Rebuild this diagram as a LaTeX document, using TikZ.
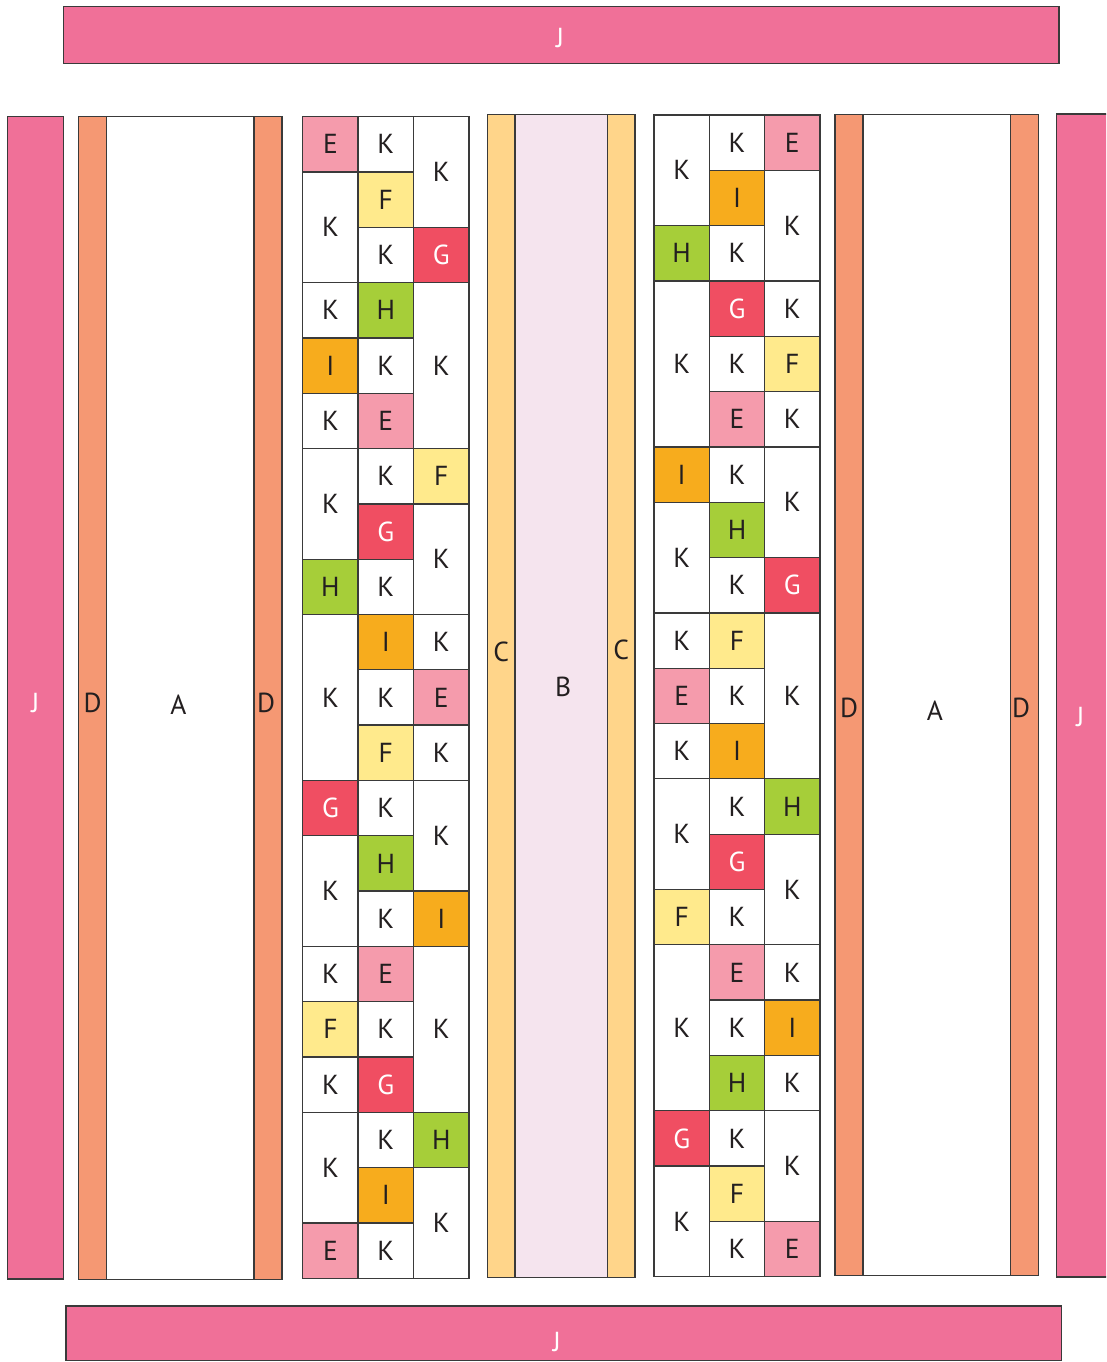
\documentclass[tikz,border=0pt]{standalone}
\usepackage{fontspec}
\setmainfont{PT Sans}
\definecolor{jpink}{HTML}{F07098}
\definecolor{dsalmon}{HTML}{F59873}
\definecolor{cyel}{HTML}{FFD58A}
\definecolor{bpink}{HTML}{F5E4EE}
\definecolor{epink}{HTML}{F59BAC}
\definecolor{fyel}{HTML}{FFEA8C}
\definecolor{gred}{HTML}{F04E62}
\definecolor{hgreen}{HTML}{A6CE39}
\definecolor{iorange}{HTML}{F7AC1D}
\definecolor{linecol}{HTML}{3A3A3A}
\definecolor{txt}{HTML}{231F20}
\newcommand\gcell[6]{%
  \pgfmathsetmacro\cx{\gridX+(#2+0.5)*\gridW}%
  \pgfmathsetmacro\cy{\gridY+(#3+0.5*#4)*\gridH}%
  \pgfmathsetmacro\ch{#4*\gridH}%
  \node[cellbox,#5,minimum width=\gridW pt,minimum height=\ch pt] (#1) at (\cx,\cy) {#6};}
\begin{document}
\begin{tikzpicture}[x=1pt,y=-1pt,
  cellbox/.style={draw=linecol,line width=1.3pt,inner sep=0pt,
    font=\fontsize{27.5}{32}\selectfont,text=txt,fill=white},
  cE/.style={fill=epink},
  cF/.style={fill=fyel},
  cG/.style={fill=gred,text=white},
  cH/.style={fill=hgreen},
  cI/.style={fill=iorange},
  cK/.style={fill=white},
  bar/.style={draw=linecol,line width=1.3pt,inner sep=0pt},
  lbl/.style={font=\fontsize{27.5}{32}\selectfont,text=txt,inner sep=0pt},
  wlbl/.style={lbl,text=white}]
\path[use as bounding box,clip] (0,0) rectangle (1106,1362);

% J bars
\node[bar,fill=jpink,minimum width=995.7pt,minimum height=56.6pt,
  label={[wlbl,xshift=-1pt,yshift=-3pt]center:J}] (jtop) at (561.15,35) {};
\node[bar,fill=jpink,minimum width=995.7pt,minimum height=54.7pt,
  label={[wlbl,xshift=-7pt,yshift=-9pt]center:J}] (jbot) at (563.85,1333.35) {};
\node[bar,fill=jpink,minimum width=55.8pt,minimum height=1162.3pt,
  label={[wlbl,yshift=-5pt]center:J}] (jleft) at (35.4,697.9) {};
\node[bar,fill=jpink,minimum width=53.3pt,minimum height=1163pt,
  label={[wlbl,xshift=-3pt,yshift=-22pt]center:J}] (jright) at (1083.35,695.5) {};

% left A group
\node[bar,fill=dsalmon,minimum width=28.2pt,minimum height=1162.8pt,
  label={[lbl,yshift=-5pt]center:D}] (dl1) at (92.6,698.1) {};
\node[bar,fill=white,minimum width=147.3pt,minimum height=1162.8pt,
  label={[lbl,xshift=-2pt,yshift=-7pt]center:A}] (al) at (180.35,698.1) {};
\node[bar,fill=dsalmon,minimum width=28pt,minimum height=1162.8pt,
  label={[lbl,xshift=-2pt,yshift=-5pt]center:D}] (dl2) at (268,698.1) {};

% B group
\node[bar,fill=cyel,minimum width=27.7pt,minimum height=1163.4pt,
  label={[lbl,yshift=44pt]center:C}] (c1) at (501.15,696) {};
\node[bar,fill=bpink,minimum width=92.3pt,minimum height=1163.4pt,
  label={[lbl,xshift=2pt,yshift=9pt]center:B}] (b) at (561.15,696) {};
\node[bar,fill=cyel,minimum width=27.7pt,minimum height=1163.4pt,
  label={[lbl,yshift=46pt]center:C}] (c2) at (621.15,696) {};

% right A group
\node[bar,fill=dsalmon,minimum width=28pt,minimum height=1161pt,
  label={[lbl,yshift=-13pt]center:D}] (dr1) at (849,695.2) {};
\node[bar,fill=white,minimum width=147.7pt,minimum height=1161pt,
  label={[lbl,xshift=-2pt,yshift=-16pt]center:A}] (ar) at (936.85,695.2) {};
\node[bar,fill=dsalmon,minimum width=27.6pt,minimum height=1161pt,
  label={[lbl,xshift=-3.5pt,yshift=-13pt]center:D}] (dr2) at (1024.5,695.2) {};

% left grid
\def\gridX{302.7}\def\gridY{116.7}\def\gridW{55.43}\def\gridH{55.31}
\gcell{l1}{0}{0}{1}{cE}{E}
\gcell{l2}{0}{1}{2}{cK}{K}
\gcell{l3}{1}{0}{1}{cK}{K}
\gcell{l4}{1}{1}{1}{cF}{F}
\gcell{l5}{1}{2}{1}{cK}{K}
\gcell{l6}{2}{0}{2}{cK}{K}
\gcell{l7}{2}{2}{1}{cG}{G}
\gcell{l8}{0}{3}{1}{cK}{K}
\gcell{l9}{0}{4}{1}{cI}{I}
\gcell{l10}{0}{5}{1}{cK}{K}
\gcell{l11}{1}{3}{1}{cH}{H}
\gcell{l12}{1}{4}{1}{cK}{K}
\gcell{l13}{1}{5}{1}{cE}{E}
\gcell{l14}{2}{3}{3}{cK}{K}
\gcell{l15}{0}{6}{2}{cK}{K}
\gcell{l16}{0}{8}{1}{cH}{H}
\gcell{l17}{1}{6}{1}{cK}{K}
\gcell{l18}{1}{7}{1}{cG}{G}
\gcell{l19}{1}{8}{1}{cK}{K}
\gcell{l20}{2}{6}{1}{cF}{F}
\gcell{l21}{2}{7}{2}{cK}{K}
\gcell{l22}{0}{9}{3}{cK}{K}
\gcell{l23}{1}{9}{1}{cI}{I}
\gcell{l24}{1}{10}{1}{cK}{K}
\gcell{l25}{1}{11}{1}{cF}{F}
\gcell{l26}{2}{9}{1}{cK}{K}
\gcell{l27}{2}{10}{1}{cE}{E}
\gcell{l28}{2}{11}{1}{cK}{K}
\gcell{l29}{0}{12}{1}{cG}{G}
\gcell{l30}{0}{13}{2}{cK}{K}
\gcell{l31}{1}{12}{1}{cK}{K}
\gcell{l32}{1}{13}{1}{cH}{H}
\gcell{l33}{1}{14}{1}{cK}{K}
\gcell{l34}{2}{12}{2}{cK}{K}
\gcell{l35}{2}{14}{1}{cI}{I}
\gcell{l36}{0}{15}{1}{cK}{K}
\gcell{l37}{0}{16}{1}{cF}{F}
\gcell{l38}{0}{17}{1}{cK}{K}
\gcell{l39}{1}{15}{1}{cE}{E}
\gcell{l40}{1}{16}{1}{cK}{K}
\gcell{l41}{1}{17}{1}{cG}{G}
\gcell{l42}{2}{15}{3}{cK}{K}
\gcell{l43}{0}{18}{2}{cK}{K}
\gcell{l44}{0}{20}{1}{cE}{E}
\gcell{l45}{1}{18}{1}{cK}{K}
\gcell{l46}{1}{19}{1}{cI}{I}
\gcell{l47}{1}{20}{1}{cK}{K}
\gcell{l48}{2}{18}{1}{cH}{H}
\gcell{l49}{2}{19}{2}{cK}{K}

% right grid
\def\gridX{654}\def\gridY{115}\def\gridW{55.33}\def\gridH{55.32}
\gcell{r1}{0}{0}{2}{cK}{K}
\gcell{r2}{0}{2}{1}{cH}{H}
\gcell{r3}{1}{0}{1}{cK}{K}
\gcell{r4}{1}{1}{1}{cI}{I}
\gcell{r5}{1}{2}{1}{cK}{K}
\gcell{r6}{2}{0}{1}{cE}{E}
\gcell{r7}{2}{1}{2}{cK}{K}
\gcell{r8}{0}{3}{3}{cK}{K}
\gcell{r9}{1}{3}{1}{cG}{G}
\gcell{r10}{1}{4}{1}{cK}{K}
\gcell{r11}{1}{5}{1}{cE}{E}
\gcell{r12}{2}{3}{1}{cK}{K}
\gcell{r13}{2}{4}{1}{cF}{F}
\gcell{r14}{2}{5}{1}{cK}{K}
\gcell{r15}{0}{6}{1}{cI}{I}
\gcell{r16}{0}{7}{2}{cK}{K}
\gcell{r17}{1}{6}{1}{cK}{K}
\gcell{r18}{1}{7}{1}{cH}{H}
\gcell{r19}{1}{8}{1}{cK}{K}
\gcell{r20}{2}{6}{2}{cK}{K}
\gcell{r21}{2}{8}{1}{cG}{G}
\gcell{r22}{0}{9}{1}{cK}{K}
\gcell{r23}{0}{10}{1}{cE}{E}
\gcell{r24}{0}{11}{1}{cK}{K}
\gcell{r25}{1}{9}{1}{cF}{F}
\gcell{r26}{1}{10}{1}{cK}{K}
\gcell{r27}{1}{11}{1}{cI}{I}
\gcell{r28}{2}{9}{3}{cK}{K}
\gcell{r29}{0}{12}{2}{cK}{K}
\gcell{r30}{0}{14}{1}{cF}{F}
\gcell{r31}{1}{12}{1}{cK}{K}
\gcell{r32}{1}{13}{1}{cG}{G}
\gcell{r33}{1}{14}{1}{cK}{K}
\gcell{r34}{2}{12}{1}{cH}{H}
\gcell{r35}{2}{13}{2}{cK}{K}
\gcell{r36}{0}{15}{3}{cK}{K}
\gcell{r37}{1}{15}{1}{cE}{E}
\gcell{r38}{1}{16}{1}{cK}{K}
\gcell{r39}{1}{17}{1}{cH}{H}
\gcell{r40}{2}{15}{1}{cK}{K}
\gcell{r41}{2}{16}{1}{cI}{I}
\gcell{r42}{2}{17}{1}{cK}{K}
\gcell{r43}{0}{18}{1}{cG}{G}
\gcell{r44}{0}{19}{2}{cK}{K}
\gcell{r45}{1}{18}{1}{cK}{K}
\gcell{r46}{1}{19}{1}{cF}{F}
\gcell{r47}{1}{20}{1}{cK}{K}
\gcell{r48}{2}{18}{2}{cK}{K}
\gcell{r49}{2}{20}{1}{cE}{E}
\end{tikzpicture}
\end{document}
